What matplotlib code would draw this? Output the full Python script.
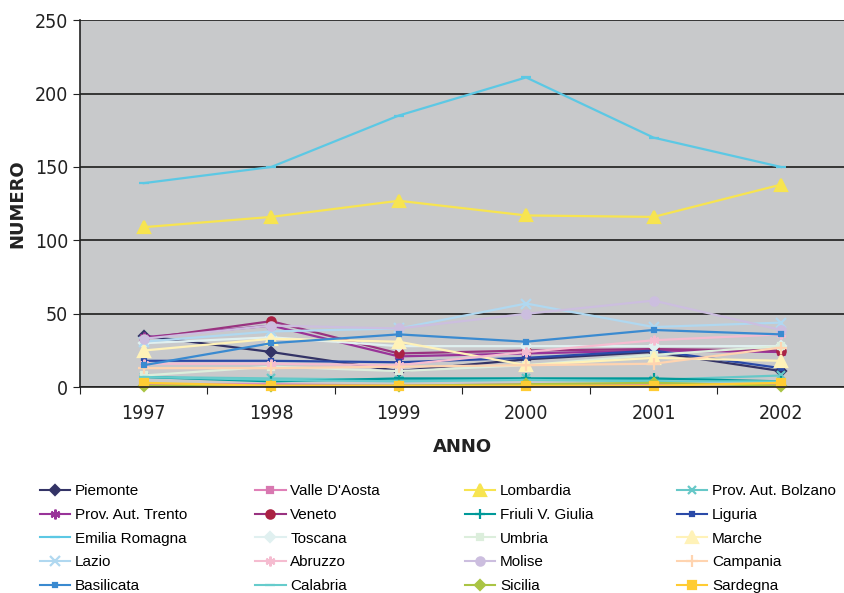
import matplotlib.pyplot as plt
from matplotlib.lines import Line2D
from matplotlib import font_manager

anni = ['1997', '1998', '1999', '2000', '2001', '2002']

regioni = ['Piemonte', "Valle D'Aosta", 'Lombardia', 'Prov. Aut. Bolzano',
           'Prov. Aut. Trento', 'Veneto', 'Friuli V. Giulia', 'Liguria',
           'Emilia Romagna', 'Toscana', 'Umbria', 'Marche',
           'Lazio', 'Abruzzo', 'Molise', 'Campania',
           'Basilicata', 'Calabria', 'Sicilia', 'Sardegna']

piemonte = [35, 24, 11, 19, 24, 11]
valle_aosta = [2, 2, 1, 2, 2, 2]
lombardia = [109, 116, 127, 117, 116, 138]
bolzano = [7, 6, 5, 6, 5, 8]
trento = [34, 42, 21, 23, 25, 24]
veneto = [33, 45, 23, 25, 26, 25]
friuli = [7, 4, 6, 6, 6, 4]
liguria = [18, 18, 17, 20, 25, 13]
emilia = [139, 150, 185, 211, 170, 150]
toscana = [30, 34, 28, 28, 28, 28]
umbria = [8, 14, 11, 15, 22, 28]
marche = [25, 33, 31, 15, 20, 18]
lazio = [31, 38, 40, 57, 41, 44]
abruzzo = [16, 16, 15, 24, 32, 36]
molise = [33, 42, 40, 50, 59, 39]
campania = [13, 13, 14, 15, 16, 27]
basilicata = [15, 30, 36, 31, 39, 36]
calabria = [7, 5, 4, 5, 4, 4]
sicilia = [1, 1, 1, 2, 3, 1]
sardegna = [3, 1, 1, 1, 1, 3]

valori = [piemonte, valle_aosta, lombardia, bolzano, trento, veneto, friuli,
          liguria, emilia, toscana, umbria, marche, lazio, abruzzo, molise,
          campania, basilicata, calabria, sicilia, sardegna]

# colore linea, marker, colore marker, dimensione marker
stili = [
    ('#333366', 'D', '#333366', 5),
    ('#e080b8', 's', '#d878b0', 5),
    ('#f7e450', '^', '#f7e450', 9),
    ('#66c8c8', 'x', '#66c8c8', 6),
    ('#993399', (6, 2, 0), '#993399', 7),
    ('#993380', 'o', '#aa2244', 6),
    ('#009999', '+', '#009999', 7),
    ('#2a4aa8', 's', '#2a4aa8', 3),
    ('#5cc8e4', '_', '#5cc8e4', 7),
    ('#e0f0f0', 'D', '#e0f0f0', 5),
    ('#dceedc', 's', '#dceedc', 5),
    ('#fff2b8', '^', '#fff2b8', 8),
    ('#b0d8f0', 'x', '#b0d8f0', 7),
    ('#f5bcd0', (6, 2, 0), '#f5bcd0', 7),
    ('#ccbedf', 'o', '#ccbedf', 6),
    ('#ffd4b0', '+', '#ffd4b0', 8),
    ('#3a8ad0', 's', '#3a8ad0', 3),
    ('#66cccc', '_', '#66cccc', 7),
    ('#aac444', 'D', '#aac444', 5),
    ('#ffcc33', 's', '#ffcc33', 6),
]

nomi_font = {f.name for f in font_manager.fontManager.ttflist}
if 'Liberation Sans Narrow' in nomi_font:
    tick_font = {'family': 'Liberation Sans Narrow', 'size': 16}
else:
    tick_font = {'family': 'DejaVu Sans', 'stretch': 'condensed', 'size': 14}

fig = plt.figure(figsize=(8.45, 5.93), dpi=100)
ax = fig.add_axes([0.0947, 0.347, 0.905, 0.619])
ax.set_facecolor('#c8c9cb')

x = range(len(anni))
handles = []
for nome, y, (col, mk, mcol, ms) in zip(regioni, valori, stili):
    ax.plot(x, y, color=col, lw=1.6, marker=mk, markersize=ms,
            markerfacecolor=mcol, markeredgecolor=mcol, mew=1.6, clip_on=False)
    handles.append(Line2D([], [], color=col, lw=1.5, marker=mk, markersize=ms,
                          markerfacecolor=mcol, markeredgecolor=mcol, mew=1.6))

ax.set_xlim(-0.5, 5.5)
ax.set_ylim(0, 250)
ax.set_yticks(range(0, 251, 50))
ax.yaxis.grid(True, color='#2a2a2a', lw=1.3)
ax.set_axisbelow(True)
ax.set_xticks([i + 0.5 for i in range(-1, 6)])
ax.set_xticklabels([])
ax.set_xticks(list(x), minor=True)
ax.set_xticklabels(anni, minor=True)
ax.tick_params(axis='x', which='minor', length=0, pad=12)
ax.tick_params(axis='x', which='major', length=5, color='#222')
ax.tick_params(axis='y', length=5, color='#222')

for lab in ax.get_yticklabels() + ax.get_xticklabels(minor=True):
    lab.set_fontproperties(font_manager.FontProperties(**tick_font))
    lab.set_color('#222')

for s in ['top', 'right']:
    ax.spines[s].set_visible(False)
for s in ['left', 'bottom']:
    ax.spines[s].set_color('#222')
    ax.spines[s].set_linewidth(1.2)

ax.set_ylabel('NUMERO', fontsize=13, fontweight='bold', color='#222')
ax.yaxis.set_label_coords(-0.07, 0.5)
ax.set_xlabel('ANNO', fontsize=13, fontweight='bold', color='#222', labelpad=11)

# legenda su 4 colonne, riempite per righe
colx = [0.047, 0.302, 0.550, 0.801]
for c in range(4):
    fig.legend(handles[c::4], regioni[c::4], loc='upper left',
               bbox_to_anchor=(colx[c], 0.183), frameon=False,
               handlelength=2.0, handletextpad=0.3, labelspacing=0.63,
               borderaxespad=0, borderpad=0,
               prop={'family': 'Liberation Sans', 'size': 11})

fig.savefig('out.png', dpi=100)
